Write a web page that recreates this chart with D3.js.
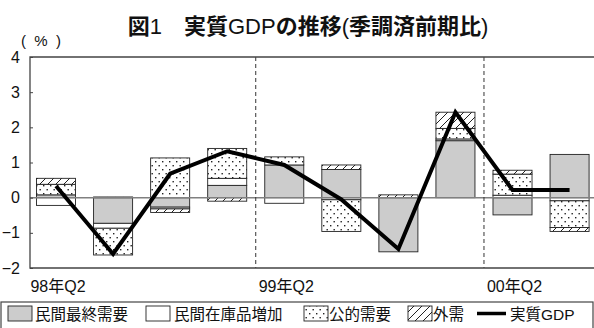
<!DOCTYPE html>
<html>
<head>
<meta charset="utf-8">
<script src="https://cdn.jsdelivr.net/npm/d3@7/dist/d3.min.js"></script>
<style>
  html, body { margin: 0; padding: 0; background: #fff; }
  svg { display: block; }
  text { font-family: "Liberation Sans", Arial, "Noto Sans CJK JP", sans-serif; fill: #111; }
</style>
</head>
<body>
<svg id="chart" width="594" height="328"></svg>
<script>
// Quarters 98Q2 .. 00Q3
const quarters = ["98Q2","98Q3","98Q4","99Q1","99Q2","99Q3","99Q4","00Q1","00Q2","00Q3"];
// Contributions to real GDP growth (% points, q/q, seasonally adjusted)
const privateFinal = [0.08, -0.73, -0.27, 0.35, 0.93, 0.80, -1.54, 1.62, -0.49, 1.23];
const inventory    = [-0.22, -0.14, -0.05, 0.20, -0.16, -0.06, 0.00, 0.05, 0.07, -0.09];
const publicDemand = [0.30, -0.76, 1.13, 0.85, 0.23, -0.90, 0.00, 0.30, 0.60, -0.76];
const external     = [0.17, 0.02, -0.10, -0.10, 0.00, 0.13, 0.08, 0.46, 0.11, -0.11];
const realGDP      = [0.33, -1.60, 0.68, 1.32, 0.93, -0.05, -1.46, 2.43, 0.22, 0.22];
const seriesNames  = ["民間最終需要", "民間在庫品増加", "公的需要", "外需"];
const yTicks = [-2, -1, 0, 1, 2, 3, 4];
const xTickLabels = [{q: "98Q2", label: "98年Q2"}, {q: "99Q2", label: "99年Q2"}, {q: "00Q2", label: "00年Q2"}];
const yearBreaks = [["99Q1", "99Q2"], ["00Q1", "00Q2"]];

const svg = d3.select("#chart");
const plot = {left: 30, right: 600, top: 57, bottom: 268};

const x = d3.scaleBand().domain(quarters).range([27.5, 598.1]).paddingInner(0.316).paddingOuter(0.158);
const y = d3.scaleLinear().domain([-2, 4]).range([plot.bottom, plot.top]);

// Patterns
const defs = svg.append("defs");
const dots = defs.append("pattern").attr("id", "dots").attr("patternUnits", "userSpaceOnUse")
  .attr("width", 7).attr("height", 8);
dots.append("rect").attr("width", 7).attr("height", 8).attr("fill", "#fff");
dots.append("rect").attr("x", 1).attr("y", 1).attr("width", 1.4).attr("height", 1.4).attr("fill", "#222");
dots.append("rect").attr("x", 4.5).attr("y", 5).attr("width", 1.4).attr("height", 1.4).attr("fill", "#222");
const hatch = defs.append("pattern").attr("id", "hatch").attr("patternUnits", "userSpaceOnUse")
  .attr("width", 8).attr("height", 8);
hatch.append("rect").attr("width", 8).attr("height", 8).attr("fill", "#fff");
hatch.append("path").attr("d", "M-2,2 L2,-2 M0,8 L8,0 M6,10 L10,6").attr("stroke", "#222").attr("stroke-width", 1);

const fills = ["#cccccc", "#ffffff", "url(#dots)", "url(#hatch)"];

// Title: CJK runs bold, Latin runs regular
function addRuns(textSel, str, cjkWeight, latinWeight) {
  const runs = str.match(/[\u3000-\u9fff\uff00-\uffef]+|[^\u3000-\u9fff\uff00-\uffef]+/g);
  runs.forEach(r => {
    const cjk = /[\u3000-\u9fff\uff00-\uffef]/.test(r);
    textSel.append("tspan").text(r)
      .attr("font-weight", cjk ? cjkWeight : latinWeight)
      .attr("font-family", cjk ? "'Noto Sans CJK JP', sans-serif" : "'Liberation Sans', Arial, sans-serif");
  });
}
const title = svg.append("text").attr("x", 308).attr("y", 34).attr("text-anchor", "middle")
  .attr("font-size", 22);
addRuns(title, "図1　実質GDPの推移(季調済前期比)", 700, 400);

svg.append("text").attr("x", 21).attr("y", 46).attr("font-size", 15)
  .attr("xml:space", "preserve").style("white-space", "pre").text("(  %  )");

// Stacked bars (diverging)
const table = quarters.map((q, i) => ({q, s0: privateFinal[i], s1: inventory[i], s2: publicDemand[i], s3: external[i]}));
const stack = d3.stack().keys(["s0", "s1", "s2", "s3"]).offset(d3.stackOffsetDiverging);
const layers = stack(table);

const barG = svg.append("g");
layers.forEach((layer, k) => {
  barG.selectAll(null).data(layer).join("rect")
    .attr("x", d => x(d.data.q))
    .attr("width", x.bandwidth())
    .attr("y", d => y(Math.max(d[0], d[1])))
    .attr("height", d => Math.abs(y(d[0]) - y(d[1])))
    .attr("fill", fills[k])
    .attr("stroke", "#222").attr("stroke-width", 0.9);
});

// Zero line
svg.append("line").attr("x1", plot.left).attr("x2", plot.right)
  .attr("y1", y(0)).attr("y2", y(0)).attr("stroke", "#808080").attr("stroke-width", 1.5);

// Year separators
yearBreaks.forEach(([a, b]) => {
  const xv = (x(a) + x.bandwidth() / 2 + x(b) + x.bandwidth() / 2) / 2;
  svg.append("line").attr("x1", xv).attr("x2", xv).attr("y1", plot.top).attr("y2", plot.bottom)
    .attr("stroke", "#333").attr("stroke-width", 1).attr("stroke-dasharray", "4,3");
});

// Frame
svg.append("path").attr("d", `M${plot.right},${plot.top}H${plot.left}V${plot.bottom}H${plot.right}`)
  .attr("fill", "none").attr("stroke", "#444").attr("stroke-width", 1.3);

// Y axis
const yAxis = d3.axisLeft(y).tickValues(yTicks).tickSize(-3).tickPadding(10).tickFormat(d3.format("d"));
const yg = svg.append("g").attr("transform", `translate(${plot.left},0)`).call(yAxis);
yg.select(".domain").remove();
yg.selectAll(".tick line").attr("stroke", "#444");
yg.selectAll(".tick text").attr("font-size", 16).attr("font-family", "'Liberation Sans', Arial, sans-serif").attr("fill", "#111");

// X labels
svg.selectAll(".xlab").data(xTickLabels).join("text")
  .attr("class", "xlab")
  .attr("x", d => x(d.q) + x.bandwidth() / 2 + 2)
  .attr("y", 292)
  .attr("text-anchor", "middle")
  .attr("font-size", 16)
  .text(d => d.label);

// GDP line
const line = d3.line().x((d, i) => x(quarters[i]) + x.bandwidth() / 2).y(d => y(d));
svg.append("path").datum(realGDP).attr("d", line)
  .attr("fill", "none").attr("stroke", "#000").attr("stroke-width", 4).attr("stroke-linejoin", "miter");

// Legend
const lg = svg.append("g");
lg.append("rect").attr("x", 1).attr("y", 302).attr("width", 592).attr("height", 30)
  .attr("fill", "#fff").attr("stroke", "#444").attr("stroke-width", 1.2);
const legendItems = [
  {name: seriesNames[0], fill: fills[0], sx: 8, tx: 35},
  {name: seriesNames[1], fill: fills[1], sx: 146, tx: 174},
  {name: seriesNames[2], fill: fills[2], sx: 304, tx: 329},
  {name: seriesNames[3], fill: fills[3], sx: 408, tx: 433},
];
legendItems.forEach(it => {
  lg.append("rect").attr("x", it.sx).attr("y", 306).attr("width", 24).attr("height", 15)
    .attr("fill", it.fill).attr("stroke", "#222").attr("stroke-width", 0.9);
  lg.append("text").attr("x", it.tx).attr("y", 319.5).attr("font-size", 15.5)
    .attr("font-family", "'Noto Sans CJK JP', sans-serif").text(it.name);
});
lg.append("line").attr("x1", 477).attr("x2", 506).attr("y1", 313.5).attr("y2", 313.5)
  .attr("stroke", "#000").attr("stroke-width", 3.5);
const gl = lg.append("text").attr("x", 510).attr("y", 319.5).attr("font-size", 15.5);
addRuns(gl, "実質GDP", 400, 400);
</script>
</body>
</html>
